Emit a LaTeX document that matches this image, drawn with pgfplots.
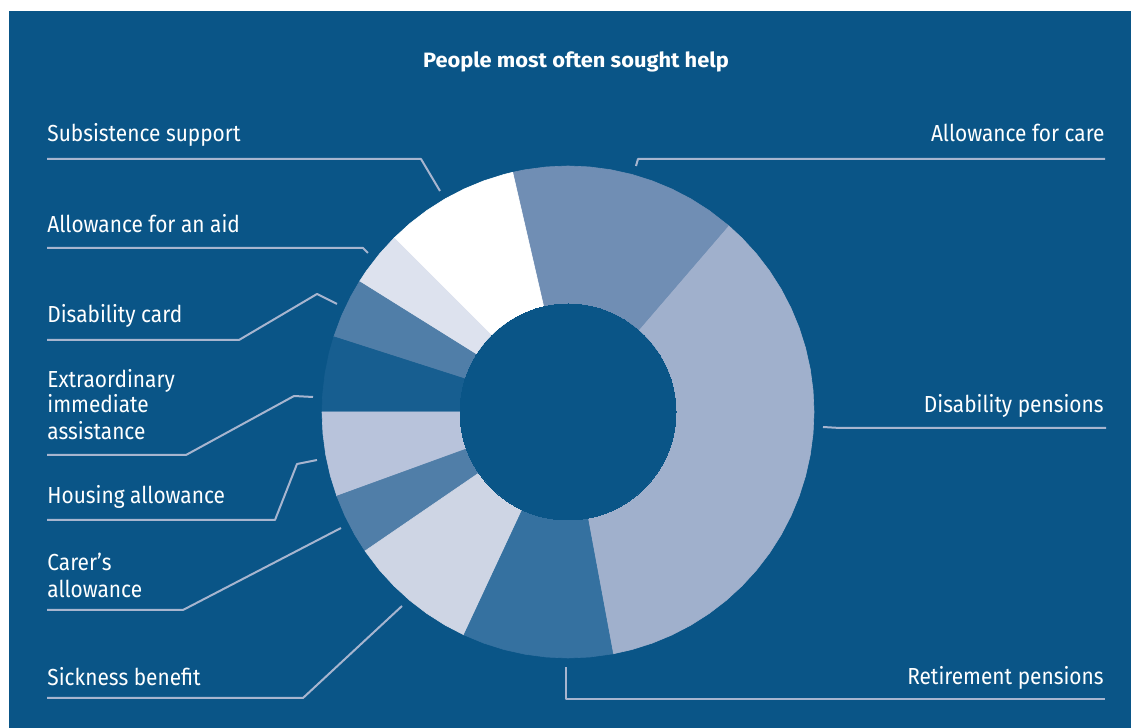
\documentclass[border=0pt]{standalone}
\usepackage{fontspec}
\setmainfont{Fira Sans}
\newfontfamily\lblfont[FakeStretch=0.9]{Fira Sans}
\newfontfamily\titlefont[FakeStretch=1.05]{Fira Sans}
\usepackage{pgfplots}
\pgfplotsset{compat=1.18}

\definecolor{bgblue}{HTML}{0A5587}
\definecolor{cCare}{HTML}{708EB4}
\definecolor{cDisPen}{HTML}{A0B0CC}
\definecolor{cRetire}{HTML}{3571A0}
\definecolor{cSick}{HTML}{CED5E4}
\definecolor{cCarer}{HTML}{507EA8}
\definecolor{cHousing}{HTML}{B8C3DB}
\definecolor{cExtra}{HTML}{175E90}
\definecolor{cCard}{HTML}{507EA8}
\definecolor{cAid}{HTML}{DDE2EE}
\definecolor{cSubs}{HTML}{FFFFFF}
\definecolor{leader}{HTML}{A7B5CF}

% shares (%, clockwise from top): care 14.9, disability pensions 35.8,
% retirement 9.9, sickness 8.5, carer 4.0, housing 5.6, extraordinary 4.9,
% disability card 3.9, aid 3.6, subsistence 8.9
% slices below are given as (angle, radius) with data cs=polar

\newcommand{\lbl}{\lblfont\fontsize{11.6}{14}\selectfont\color{white}}

\begin{document}
\begin{tikzpicture}
\begin{axis}[
  x=0.5pt, y=0.5pt,
  xmin=-568, xmax=563, ymin=-316, ymax=412,
  hide axis, clip=false,
  every axis plot/.append style={line join=round},
]
% background
\addplot[fill=white, draw=none] coordinates {(-568,-316) (563,-316) (563,412) (-568,412)} --cycle;
\addplot[fill=bgblue, draw=none] coordinates {(-559,-316) (563,-316) (563,401) (-559,401)} --cycle;

% donut slices
\addplot[data cs=polar, fill=cDisPen, draw=cDisPen, line width=0.3pt] coordinates {
 (0,0) (-79.5,246) (-75,246) (-70,246) (-65,246) (-60,246) (-55,246) (-50,246) (-45,246)
 (-40,246) (-35,246) (-30,246) (-25,246) (-20,246) (-15,246) (-10,246) (-5,246) (0,246)
 (5,246) (10,246) (15,246) (20,246) (25,246) (30,246) (35,246) (40,246) (45,246) (49.3,246)} --cycle;
\addplot[data cs=polar, fill=cCare, draw=cCare, line width=0.3pt] coordinates {
 (0,0) (49.3,246) (55,246) (60,246) (65,246) (70,246) (75,246) (80,246) (85,246) (90,246)
 (95,246) (100,246) (103,246)} --cycle;
\addplot[data cs=polar, fill=cSubs, draw=cSubs, line width=0.3pt] coordinates {
 (0,0) (103,246) (105,246) (110,246) (115,246) (120,246) (125,246) (130,246) (135,246)} --cycle;
\addplot[data cs=polar, fill=cAid, draw=cAid, line width=0.3pt] coordinates {
 (0,0) (135,246) (140,246) (145,246) (148,246)} --cycle;
\addplot[data cs=polar, fill=cCard, draw=cCard, line width=0.3pt] coordinates {
 (0,0) (148,246) (152,246) (157,246) (162.2,246)} --cycle;
\addplot[data cs=polar, fill=cExtra, draw=cExtra, line width=0.3pt] coordinates {
 (0,0) (162.2,246) (166,246) (171,246) (176,246) (180,246)} --cycle;
\addplot[data cs=polar, fill=cHousing, draw=cHousing, line width=0.3pt] coordinates {
 (0,0) (180,246) (185,246) (190,246) (195,246) (200,246)} --cycle;
\addplot[data cs=polar, fill=cCarer, draw=cCarer, line width=0.3pt] coordinates {
 (0,0) (200,246) (205,246) (210,246) (214.4,246)} --cycle;
\addplot[data cs=polar, fill=cSick, draw=cSick, line width=0.3pt] coordinates {
 (0,0) (214.4,246) (220,246) (225,246) (230,246) (235,246) (240,246) (245,246)} --cycle;
\addplot[data cs=polar, fill=cRetire, draw=cRetire, line width=0.3pt] coordinates {
 (0,0) (245,246) (250,246) (255,246) (260,246) (265,246) (270,246) (275,246) (280.5,246)} --cycle;
% hole
\addplot[color=bgblue, only marks, mark=*, mark size=54pt, mark options={fill=bgblue, draw=bgblue, line width=0pt}] coordinates {(0,0)};

% leader lines
\pgfplotsset{leaderline/.style={draw=leader, line width=1pt, mark=none}}
\addplot[leaderline] coordinates {(-521,253) (-147,253) (-128,221)};
\addplot[leaderline] coordinates {(-521,164) (-205,164) (-200,159)};
\addplot[leaderline] coordinates {(-521,72) (-329,72) (-251,118) (-231,108)};
\addplot[leaderline] coordinates {(-521,-43) (-382,-43) (-274,16) (-255,15)};
\addplot[leaderline] coordinates {(-521,-108) (-293,-108) (-271,-52) (-251,-48)};
\addplot[leaderline] coordinates {(-521,-198) (-385,-198) (-227,-116)};
\addplot[leaderline] coordinates {(-521,-286) (-265,-286) (-166,-194)};
\addplot[leaderline] coordinates {(537,253) (70,253) (68,246)};
\addplot[leaderline] coordinates {(538,-16) (272,-16) (255,-15)};
\addplot[leaderline] coordinates {(537,-287) (-2,-287) (-2,-255)};

% labels
\node[anchor=base, inner sep=0pt, text=white, font=\titlefont\bfseries\fontsize{10.4}{12}\selectfont] at (axis cs:8,344) {People most often sought help};
\node[anchor=base west, inner sep=0pt] at (axis cs:-521,270) {\lbl Subsistence support};
\node[anchor=base west, inner sep=0pt] at (axis cs:-521,179) {\lbl Allowance for an aid};
\node[anchor=base west, inner sep=0pt] at (axis cs:-521,89) {\lbl Disability card};
\node[anchor=base west, inner sep=0pt] at (axis cs:-521,24) {\lbl Extraordinary};
\node[anchor=base west, inner sep=0pt] at (axis cs:-521,-1) {\lbl immediate};
\node[anchor=base west, inner sep=0pt] at (axis cs:-521,-28) {\lbl assistance};
\node[anchor=base west, inner sep=0pt] at (axis cs:-521,-92) {\lbl Housing allowance};
\node[anchor=base west, inner sep=0pt] at (axis cs:-521,-159) {\lbl Carer’s};
\node[anchor=base west, inner sep=0pt] at (axis cs:-521,-186) {\lbl allowance};
\node[anchor=base west, inner sep=0pt] at (axis cs:-521,-274) {\lbl Sickness benefit};
\node[anchor=base east, inner sep=0pt] at (axis cs:537,270) {\lbl Allowance for care};
\node[anchor=base east, inner sep=0pt] at (axis cs:536,-1) {\lbl Disability pensions};
\node[anchor=base east, inner sep=0pt] at (axis cs:536,-273) {\lbl Retirement pensions};
\end{axis}
\end{tikzpicture}
\end{document}
